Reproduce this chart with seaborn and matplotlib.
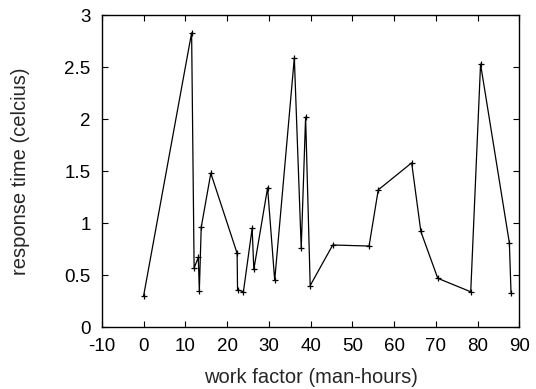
import pandas as pd
import seaborn as sns
import matplotlib.pyplot as plt

work = [0.0, 11.5, 12.1, 13.1, 13.35, 13.8, 16.1, 22.4, 22.5, 23.9, 26.0, 26.4,
        29.7, 31.4, 36.1, 37.75, 38.8, 39.9, 45.3, 54.0, 56.2, 64.2, 66.4, 70.45,
        78.35, 80.7, 87.6, 88.0]
response = [0.30, 2.83, 0.57, 0.67, 0.35, 0.96, 1.48, 0.71, 0.36, 0.34, 0.95, 0.555,
            1.34, 0.45, 2.59, 0.76, 2.02, 0.40, 0.79, 0.78, 1.32, 1.58, 0.92, 0.47,
            0.34, 2.53, 0.81, 0.33]
xticks = list(range(-10, 91, 10))
yticks = [0, 0.5, 1, 1.5, 2, 2.5, 3]

df = pd.DataFrame({"work": work, "response": response})

sns.set_style("ticks")
plt.rcParams['font.family'] = ['Liberation Sans', 'DejaVu Sans']

fig = plt.figure(figsize=(5.36, 3.89), dpi=100)
ax = fig.add_axes([0.19, 0.159, 0.779, 0.802])

sns.lineplot(data=df, x="work", y="response", sort=False, color="black",
             linewidth=0.9, marker="+", markersize=5, markeredgewidth=0.9,
             markeredgecolor="black", ax=ax)

ax.set_xlim(-10, 90)
ax.set_ylim(0, 3)
ax.set_xticks(xticks)
ax.set_xticklabels([str(t) for t in xticks])
ax.set_yticks(yticks)
ax.set_yticklabels([f"{t:g}" for t in yticks])
ax.tick_params(direction="in", length=4, width=0.8, top=True, right=True,
               labelsize=13.5, pad=8, colors="black")
for s in ax.spines.values():
    s.set_visible(True)
    s.set_linewidth(1.0)
    s.set_color("black")

ax.set_xlabel("work factor (man-hours)", fontsize=14.5, labelpad=9)
ax.set_ylabel("response time (celcius)", fontsize=14.5, labelpad=25)

fig.savefig("out.png", dpi=100)
